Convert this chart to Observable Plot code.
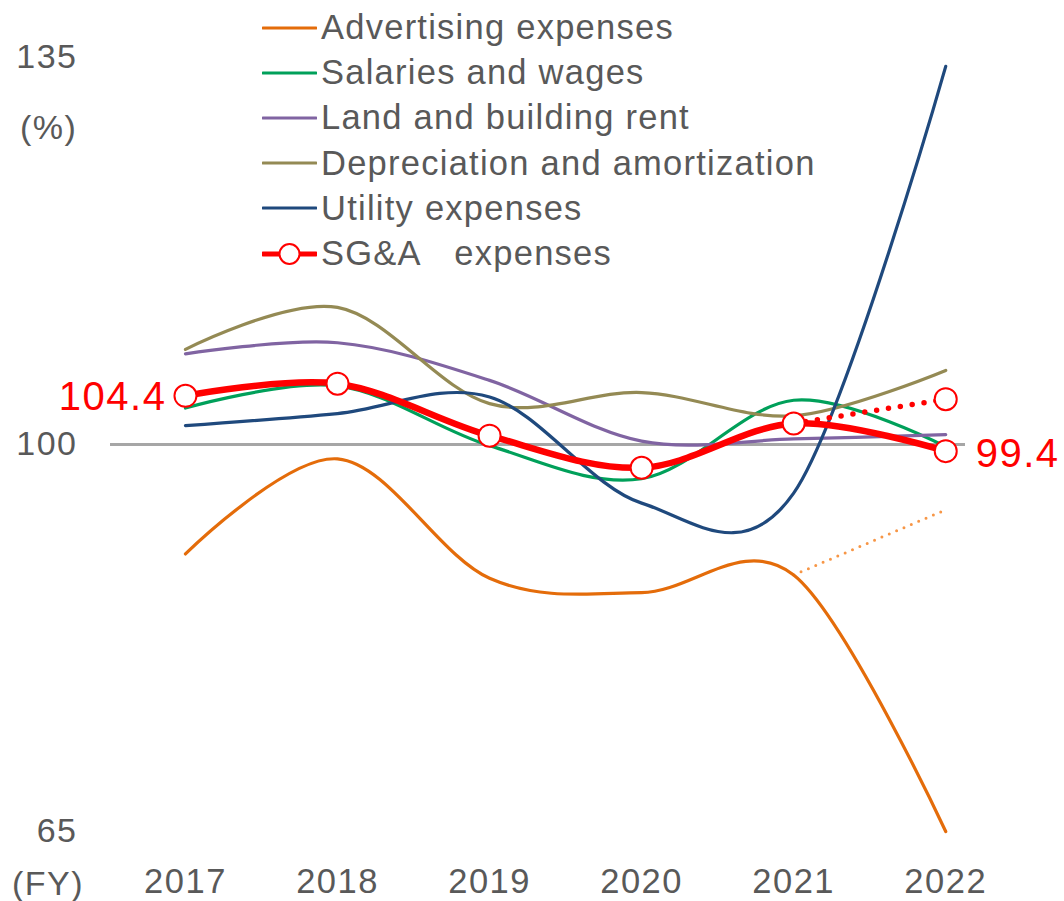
<!DOCTYPE html>
<html>
<head>
<meta charset="utf-8">
<script src="https://cdn.jsdelivr.net/npm/d3@7"></script>
<script src="https://cdn.jsdelivr.net/npm/@observablehq/plot@0.6"></script>
<style>
  html, body { margin: 0; padding: 0; background: #fff; }
  body { width: 1064px; height: 901px; position: relative; overflow: hidden;
         font-family: "Liberation Sans", Arial, sans-serif; color: #595959; }
  #chart { position: absolute; left: 0; top: 0; }
  #chart svg text { letter-spacing: 1.5px; }
  .legend { position: absolute; left: 262px; top: 5px; }
  .legend .row { height: 45.2px; line-height: 45.2px; font-size: 34.5px; letter-spacing: 1.25px; white-space: nowrap; display: flex; align-items: center; }
  .legend svg { margin-right: 4px; flex: none; }
  .note { position: absolute; font-size: 34px; letter-spacing: 1.5px; color: #595959; }
</style>
</head>
<body>
<div id="chart"></div>
<div class="legend" id="legend"></div>
<div class="note" style="left:20px; top:108px;">(%)</div>
<div class="note" style="left:12px; top:864px;">(FY)</div>
<script>
// ---- data ----
const years = [2017, 2018, 2019, 2020, 2021, 2022];
const advertising  = [90.1, 98.7, 87.9, 86.6, 88.2, 65.0];
const salaries     = [103.3, 105.3, 99.9, 96.9, 104.0, 99.8];
const rent         = [108.2, 109.2, 105.8, 100.3, 100.5, 100.9];
const depreciation = [108.6, 112.4, 103.7, 104.7, 102.6, 106.7];
const utility      = [101.7, 102.8, 104.3, 94.7, 95.6, 134.2];
const sga          = [104.4, 105.5, 100.8, 97.9, 101.9, 99.4];
// alternative (dotted) 2022 values
const sgaAlt2022 = 104.1;
const advertisingAlt2022 = 94.1;
const yTicks = [65, 100, 135];
const seriesNames = ["Advertising expenses", "Salaries and wages", "Land and building rent",
                     "Depreciation and amortization", "Utility expenses", "SG&A\u00a0\u00a0 expenses"];
const seriesColors = ["#E46C0A", "#00A05A", "#8064A2", "#948A54", "#1F497D", "#FF0000"];

const seriesValues = [advertising, salaries, rent, depreciation, utility, sga];
const rows = seriesValues.flatMap((vals, i) => years.map((yr, j) => ({series: seriesNames[i], year: yr, value: vals[j], idx: i})));
const sgaRows = rows.filter(d => d.idx === 5);
const sgaDotted = [{year: 2021, value: sga[4]}, {year: 2022, value: sgaAlt2022}];
const adDotted = [{year: 2021, value: advertising[4]}, {year: 2022, value: advertisingAlt2022}];

const font = "'Liberation Sans', Arial, sans-serif";

const lineMarks = [0,1,2,3,4].map(i =>
  Plot.line(rows.filter(d => d.idx === i), {x: "year", y: "value", stroke: seriesColors[i], strokeWidth: 3.2, curve: "cardinal"})
);

const chart = Plot.plot({
  width: 1064,
  height: 901,
  marginLeft: 110,
  marginRight: 99,
  marginTop: 57,
  marginBottom: 70,
  style: {fontFamily: font, background: "#fff", overflow: "visible"},
  x: {domain: [2016.507, 2022.13], ticks: years, tickFormat: d => String(d), label: null},
  y: {domain: [65, 135], ticks: yTicks, label: null},
  marks: [
    Plot.ruleY([100], {stroke: "#A6A6A6", strokeWidth: 3}),
    Plot.line(adDotted, {x: "year", y: "value", stroke: "#F79646", strokeWidth: 3, strokeDasharray: "0 8", strokeLinecap: "round", strokeDashoffset: -8}),
    ...lineMarks,
    Plot.line(sgaDotted, {x: "year", y: "value", stroke: "#FF0000", strokeWidth: 5.5, strokeDasharray: "0 12", strokeLinecap: "round"}),
    Plot.line(sgaRows, {x: "year", y: "value", stroke: "#FF0000", strokeWidth: 6.5, curve: "cardinal"}),
    Plot.dot(sgaRows, {x: "year", y: "value", r: 11, fill: "#fff", stroke: "#FF0000", strokeWidth: 2}),
    Plot.dot([{year: 2022, value: sgaAlt2022}], {x: "year", y: "value", r: 11, fill: "#fff", stroke: "#FF0000", strokeWidth: 2}),
    Plot.text([sgaRows[0]], {x: "year", y: "value", text: d => d.value.toFixed(1), textAnchor: "end", dx: -19, dy: 1, fill: "#FF0000", fontSize: 40}),
    Plot.text([sgaRows[5]], {x: "year", y: "value", text: d => d.value.toFixed(1), textAnchor: "start", dx: 30, dy: 3, fill: "#FF0000", fontSize: 40}),
    Plot.axisX({ticks: years, tickFormat: d => String(d), tickSize: 0, tickPadding: 37, fontSize: 34.5, fill: "#595959", label: null}),
    Plot.axisY({ticks: yTicks, tickSize: 0, tickPadding: 33, fontSize: 34, fill: "#595959", label: null})
  ]
});
document.getElementById("chart").appendChild(chart);

// legend
const legend = document.getElementById("legend");
seriesNames.forEach((name, i) => {
  const row = document.createElement("div");
  row.className = "row";
  const isSga = i === 5;
  const svg = `<svg width="55" height="24" viewBox="0 0 55 24">
    <line x1="1" x2="54" y1="12" y2="12" stroke="${seriesColors[i]}" stroke-width="${isSga ? 5 : 3.2}" stroke-linecap="round"/>
    ${isSga ? '<circle cx="27.5" cy="12" r="10" fill="#fff" stroke="#FF0000" stroke-width="2"/>' : ''}
  </svg>`;
  row.innerHTML = svg + `<span>${name.replace("&", "&amp;")}</span>`;
  legend.appendChild(row);
});
</script>
</body>
</html>
